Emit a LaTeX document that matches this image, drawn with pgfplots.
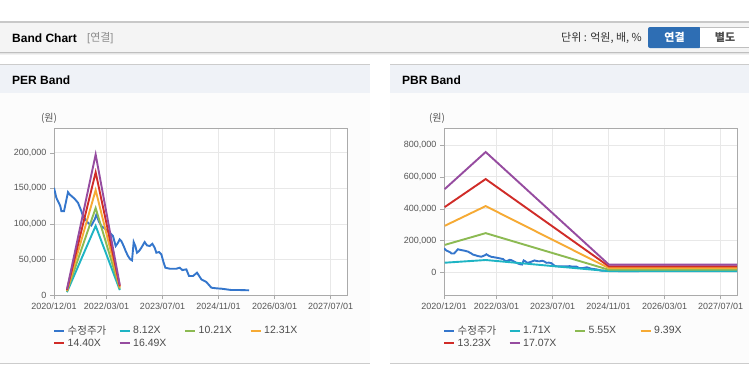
\documentclass[border=0pt]{standalone}
\usepackage{pgfplots}
\pgfplotsset{compat=1.18}
\usepackage{fontspec}
\setmainfont{Liberation Sans}
\newfontfamily\kr{Noto Sans CJK KR}
\definecolor{stock}{RGB}{52,118,204}
\definecolor{cteal}{RGB}{30,180,196}
\definecolor{cgreen}{RGB}{140,186,82}
\definecolor{corange}{RGB}{246,170,52}
\definecolor{cred}{RGB}{208,44,40}
\definecolor{cpurple}{RGB}{150,76,160}
\definecolor{hdrbg}{RGB}{244,244,244}
\definecolor{panelhdr}{RGB}{239,242,247}
\definecolor{panelbody}{RGB}{252,252,252}
\definecolor{gridc}{RGB}{232,232,232}
\definecolor{axisc}{RGB}{170,170,170}
\definecolor{tickc}{RGB}{85,85,85}
\definecolor{btnblue}{RGB}{46,110,180}
\definecolor{linegray}{RGB}{200,200,200}

\pgfplotsset{
  bandaxis/.style={
    scale only axis, width=293pt, height=167pt,
    xmin=0, xmax=83.7,
    axis background/.style={fill=white},
    axis line style={draw=axisc},
    grid=major, grid style={draw=gridc, line width=0.8pt},
    tick align=outside, tick pos=left, major tick length=4pt,
    tick style={draw=axisc},
    xtick={0,15,31,47,63,79},
    xticklabels={2020/12/01,2022/03/01,2023/07/01,2024/11/01,2026/03/01,2027/07/01},
    ticklabel style={font=\fontsize{9}{10}\selectfont, text=tickc},
    yticklabel style={/pgf/number format/fixed, /pgf/number format/precision=0,
      /pgf/number format/1000 sep={,}, /pgf/number format/assume math mode=true},
    scaled y ticks=false,
    every axis plot/.append style={line width=1.9pt, no markers},
    legend image code/.code={\draw[#1, line width=2pt] (0pt,0pt) -- (10pt,0pt);},
    legend columns=4,
    legend style={draw=none, fill=none, inner sep=0pt,
      at={(axis description cs:0,0)}, anchor=north west, xshift=-1pt, yshift=-30pt,
      font=\fontsize{10.5}{12}\selectfont, text=black!70,
      column sep=0pt, row sep=2pt,
      nodes={inner sep=0.5pt, anchor=west}},
  }
}

\newcommand{\legent}[1]{\makebox[52.5pt][l]{\hspace{2pt}#1}}

\begin{document}
\begin{tikzpicture}
\path[use as bounding box] (0pt,0pt) rectangle (749pt,-364pt);
\begin{scope}[x=1pt,y=-1pt]
\fill[white] (0,0) rectangle (749,364);
% top header bar
\fill[hdrbg] (0,22) rectangle (749,52);
\draw[linegray, line width=1.2pt] (0,22) -- (749,22);
\draw[black!25, line width=1pt] (0,52.5) -- (749,52.5);
\draw[black!10, line width=1pt] (0,53.5) -- (749,53.5);
\draw[black!5, line width=1pt] (0,54.5) -- (749,54.5);
\node[anchor=west, inner sep=0pt] at (12,38) {\fontsize{12}{14}\selectfont\bfseries Band Chart};
\node[anchor=west, inner sep=0pt, text=black!45] at (87,38) {\fontsize{11}{13}\selectfont[{\kr 연결}]};
\node[anchor=east, inner sep=0pt, text=black!80] at (642,38) {\kr\fontsize{11}{13}\selectfont 단위 : 억원, 배, \%};
\fill[btnblue, rounded corners=2pt] (648,27) rectangle (701,48);
\fill[white] (700,27) rectangle (760,48);
\draw[black!25] (700,27.5) -- (760,27.5) (700,47.5) -- (760,47.5);
\node[text=white, inner sep=0pt] at (674.5,37.5) {\kr\fontsize{11}{13}\selectfont\bfseries 연결};
\node[text=black!70, inner sep=0pt] at (725,37.5) {\kr\fontsize{11}{13}\selectfont\bfseries 별도};
% panels
\fill[panelbody] (0,93) rectangle (370,363);
\fill[panelbody] (390,93) rectangle (749,363);
\fill[panelhdr] (0,64) rectangle (370,93);
\fill[panelhdr] (390,64) rectangle (749,93);
\draw[black!20, line width=1pt] (0,64) -- (370,64) (390,64) -- (749,64);
\draw[black!20, line width=1pt] (0,363) -- (370,363) (390,363) -- (749,363);
\node[anchor=west, inner sep=0pt] at (12,80) {\fontsize{12}{14}\selectfont\bfseries PER Band};
\node[anchor=west, inner sep=0pt] at (402,80) {\fontsize{12}{14}\selectfont\bfseries PBR Band};
\node[inner sep=0pt, text=tickc] at (49,118) {\kr\fontsize{10}{12}\selectfont (원)};
\node[inner sep=0pt, text=tickc] at (437,118) {\kr\fontsize{10}{12}\selectfont (원)};
\end{scope}

% PER band
\begin{axis}[bandaxis, at={(54pt,-295pt)}, anchor=south west,
  ymin=0, ymax=235000, ytick={0,50000,100000,150000,200000}]
\addplot[stock] coordinates {
(0,150800) (0.67,136800) (1.81,125100) (2.10,118000) (2.86,118000) (4.0,144700)
(4.48,141500) (5.90,135400) (6.86,129700) (7.81,118000) (8.29,111000) (9.05,106300)
(9.71,101600) (10.67,97900) (11.62,106300) (12.10,113300) (12.76,104000) (13.52,97000)
(14.48,93700) (15.90,87600) (16.86,82900) (17.62,68900) (18.29,73500) (18.76,78200)
(19.24,75900) (19.90,68900) (20.48,61800) (21.14,54800) (21.81,50100) (22.29,48700)
(22.76,74500) (23.24,68900) (23.71,59500) (24.29,61800) (24.95,66500) (25.90,74500)
(26.57,69800) (27.33,68900) (28.10,72100) (28.76,66500) (29.24,59500) (30.00,60400)
(30.67,57100) (31.33,45400) (31.81,38400) (33.05,37000) (34.95,37000) (35.90,38400)
(36.67,35100) (37.81,36100) (38.57,26700) (39.71,26700) (40.86,31400) (42.10,22000)
(43.52,18300) (44.95,10300) (46.38,9400) (47.81,8900) (50.67,7000) (53.05,7000) (55.71,6600)
};
\addplot[cteal]   coordinates {(3.7,4000) (11.9,97300) (18.8,6900)};
\addplot[cgreen]  coordinates {(3.7,5000) (11.9,122400) (18.8,8700)};
\addplot[corange] coordinates {(3.7,6000) (11.9,147600) (18.8,10500)};
\addplot[cred]    coordinates {(3.7,7000) (11.9,172600) (18.8,12200)};
\addplot[cpurple] coordinates {(3.7,8000) (11.9,197700) (18.8,14000)};
\legend{\legent{\kr 수정주가},\legent{8.12X},\legent{10.21X},\legent{12.31X},\legent{14.40X},\legent{16.49X}}
\end{axis}

% PBR band
\begin{axis}[bandaxis, at={(444pt,-295pt)}, anchor=south west,
  ymin=-143000, ymax=907000, ytick={0,200000,400000,600000,800000}]
\addplot[stock] coordinates {
(0,150800) (0.67,136800) (1.81,125100) (2.10,118000) (2.86,118000) (4.0,144700)
(4.48,141500) (5.90,135400) (6.86,129700) (7.81,118000) (8.29,111000) (9.05,106300)
(9.71,101600) (10.67,97900) (11.62,106300) (12.10,113300) (12.76,104000) (13.52,97000)
(14.48,93700) (15.90,87600) (16.86,82900) (17.62,68900) (18.29,73500) (18.76,78200)
(19.24,75900) (19.90,68900) (20.48,61800) (21.14,54800) (21.81,50100) (22.29,48700)
(22.76,74500) (23.24,68900) (23.71,59500) (24.29,61800) (24.95,66500) (25.90,74500)
(26.57,69800) (27.33,68900) (28.10,72100) (28.76,66500) (29.24,59500) (30.00,60400)
(30.67,57100) (31.33,45400) (31.81,38400) (33.05,37000) (34.95,37000) (35.90,38400)
(36.67,35100) (37.81,36100) (38.57,26700) (39.71,26700) (40.86,31400) (42.10,22000)
(43.52,18300) (44.95,10300) (46.38,9400) (47.81,8900) (50.67,7000) (53.05,7000) (55.71,6600)
};
\addplot[cteal]   coordinates {(0.2,60000) (11.9,77000) (47.1,7000) (83.7,7000)};
\addplot[cgreen]  coordinates {(0.2,172000) (11.9,246000) (47.1,15500) (83.7,15500)};
\addplot[corange] coordinates {(0.2,292000) (11.9,416000) (47.1,26000) (83.7,26000)};
\addplot[cred]    coordinates {(0.2,410000) (11.9,586000) (47.1,37000) (83.7,37000)};
\addplot[cpurple] coordinates {(0.2,523000) (11.9,756000) (47.1,48000) (83.7,48000)};
\legend{\legent{\kr 수정주가},\legent{1.71X},\legent{5.55X},\legent{9.39X},\legent{13.23X},\legent{17.07X}}
\end{axis}
\end{tikzpicture}
\end{document}
